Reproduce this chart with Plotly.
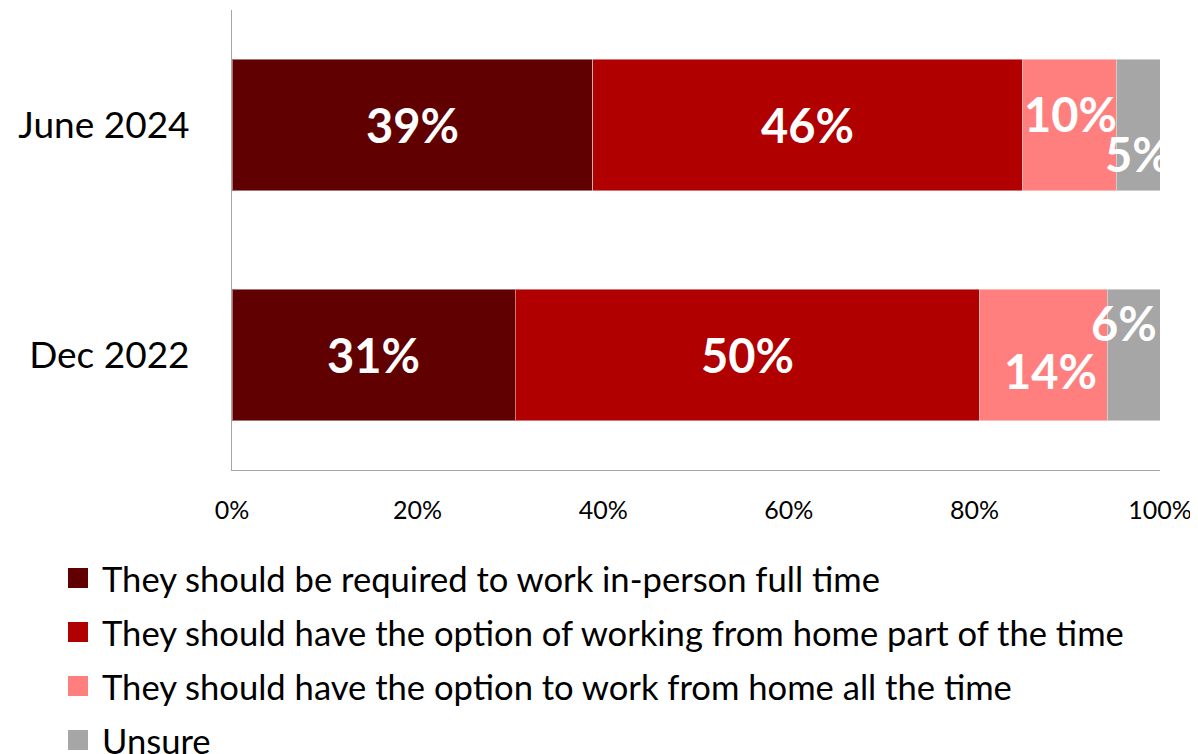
import plotly.graph_objects as go

categories = ["Dec 2022", "June 2024"]
series_names = [
    "They should be required to work in-person full time",
    "They should have the option of working from home part of the time",
    "They should have the option to work from home all the time",
    "Unsure",
]
# values per series, ordered as categories
inperson = [30.5, 38.9]
hybrid = [50.1, 46.3]
remote = [13.7, 10.1]
unsure = [5.7, 4.7]
labels_inperson = ["31%", "39%"]
labels_hybrid = ["50%", "46%"]
labels_remote = ["14%", "10%"]
labels_unsure = ["6%", "5%"]
tick_vals = [0, 20, 40, 60, 80, 100]
tick_text = ["0%", "20%", "40%", "60%", "80%", "100%"]

colors = ["#600000", "#B00000", "#FF7F7F", "#A6A6A6"]
series = [inperson, hybrid, remote, unsure]
labels = [labels_inperson, labels_hybrid, labels_remote, labels_unsure]
# label offsets (pixels) for small segments, per series per category
shifts = [
    [(0, 0), (0, 0)],
    [(0, 0), (0, 0)],
    [(7, -16), (1, 11)],
    [(-10, 32), (0, -29)],
]

FONT = "Lato"
fig = go.Figure()
for name, vals, col in zip(series_names, series, colors):
    fig.add_trace(go.Bar(
        y=categories, x=vals, name=name, orientation="h",
        marker=dict(color=col, line=dict(color="rgba(255,255,255,0.45)", width=1)),
        showlegend=False, hoverinfo="skip",
    ))

annotations = []
for si, (vals, labs) in enumerate(zip(series, labels)):
    for ci, cat in enumerate(categories):
        base = sum(series[k][ci] for k in range(si))
        dx, dy = shifts[si][ci]
        annotations.append(dict(
            x=base + vals[ci] / 2, y=cat, xref="x", yref="y",
            text=labs[ci], showarrow=False, xshift=dx, yshift=dy,
            font=dict(family=FONT, size=47, color="white", weight="bold"),
        ))

# manual legend below plot (paper coords); page px -> paper
pw, ph = 928.0, 460.0
legend_y_px = [578, 632, 686, 740]  # centers in page px
shapes = []
for i, (name, col) in enumerate(zip(series_names, colors)):
    yc = legend_y_px[i]
    ypaper = (470 - yc) / ph
    shapes.append(dict(
        type="rect", xref="paper", yref="paper",
        x0=(68 - 232) / pw, x1=(88 - 232) / pw,
        y0=ypaper - 10 / ph, y1=ypaper + 10 / ph,
        fillcolor=col, line=dict(width=0),
    ))
    annotations.append(dict(
        x=(100 - 232) / pw, y=ypaper, xref="paper", yref="paper",
        xanchor="left", yanchor="middle", text=name, showarrow=False,
        font=dict(family=FONT, size=34.6, color="black"),
    ))

fig.update_layout(
    width=1190, height=746,
    margin=dict(l=224, r=38, t=2, b=284),
    plot_bgcolor="white", paper_bgcolor="white",
    barmode="stack", bargap=0.43,
    showlegend=False,
    annotations=annotations, shapes=shapes,
    xaxis=dict(
        range=[0, 100], tickvals=tick_vals, ticktext=tick_text,
        showgrid=False, zeroline=False, showline=True, linecolor="#A6A6A6",
        linewidth=1, ticks="", ticklabelstandoff=18,
        tickfont=dict(family=FONT, size=25, color="black"),
    ),
    yaxis=dict(
        categoryorder="array", categoryarray=categories,
        showgrid=False, zeroline=False, showline=True, linecolor="#A6A6A6",
        linewidth=1, ticks="", ticklabelstandoff=34,
        tickfont=dict(family=FONT, size=37, color="black"),
    ),
)
fig.write_html("out.html")
